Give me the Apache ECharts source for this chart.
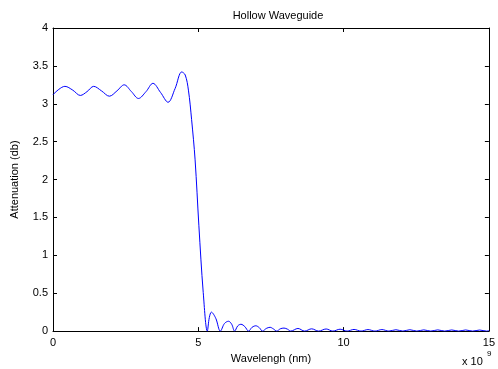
<!DOCTYPE html>
<html>
<head>
<meta charset="utf-8">
<script src="https://cdn.jsdelivr.net/npm/echarts@6/dist/echarts.min.js"></script>
<style>
  html, body { margin: 0; padding: 0; background: #fff; }
  #chart { width: 498px; height: 369px; }
</style>
</head>
<body>
<div id="chart"></div>
<script>
// wavelength (x 10^9 nm) and attenuation (db)
const waveX = [
  0, 0.2, 0.41, 0.68, 0.94, 1.17, 1.4, 1.67, 1.94, 2.2, 2.45, 2.7, 2.94, 3.2, 3.44, 3.7, 3.96, 4.2, 4.43, 4.55,
  4.66, 4.77, 4.89, 5.02, 5.17, 5.31,
  5.38, 5.45, 5.6, 5.76, 5.9, 6.04, 6.15, 6.25, 6.36, 6.47, 6.6, 6.73, 6.85, 6.98, 7.1, 7.21,
  7.34, 7.47, 7.58, 7.7, 7.82, 7.95, 8.07, 8.18, 8.43, 8.66, 8.9, 9.14, 9.4, 9.63, 9.88, 10.12,
  10.36, 10.6, 10.84, 11.08, 11.32, 11.56, 11.8, 12.04, 12.28, 12.52, 12.76, 13.0, 13.24, 13.48,
  13.72, 13.96, 14.2, 14.44, 14.68, 14.92, 15
];
const attenuation = [
  3.12, 3.19, 3.23, 3.18, 3.11, 3.16, 3.23, 3.17, 3.10, 3.17, 3.25, 3.16, 3.07, 3.16, 3.27, 3.15, 3.02, 3.2, 3.42, 3.38,
  3.18, 2.79, 2.26, 1.39, 0.51, 0.0,
  0.18, 0.25, 0.17, 0.0, 0.1, 0.13, 0.09, 0.0, 0.07, 0.09, 0.06, 0.0, 0.05, 0.07, 0.045, 0.0,
  0.035, 0.05, 0.03, 0.0, 0.03, 0.04, 0.025, 0.0, 0.035, 0.0, 0.03, 0.0, 0.028, 0.0, 0.025, 0.0,
  0.022, 0.0, 0.02, 0.0, 0.02, 0.0, 0.018, 0.0, 0.018, 0.0, 0.016, 0.0, 0.016, 0.0,
  0.015, 0.0, 0.015, 0.0, 0.014, 0.0, 0.006
];
const xTicks = [0, 5, 10, 15];
const yTicks = [0, 0.5, 1, 1.5, 2, 2.5, 3, 3.5, 4];

const font = 'Arial, "Liberation Sans", sans-serif';
const chart = echarts.init(document.getElementById('chart'));

// MATLAB-like box: axis line on all four sides, ticks pointing inwards
const boxLine = { show: true, onZero: false, lineStyle: { color: '#000', width: 1 } };
const boxTick = { show: true, inside: true, length: 4, lineStyle: { color: '#000' } };
const hiddenAxis = {
  axisLine: boxLine,
  axisTick: boxTick,
  axisLabel: { show: false },
  splitLine: { show: false }
};

chart.setOption({
  animation: false,
  backgroundColor: '#fff',
  title: {
    text: 'Hollow Waveguide',
    left: 273,
    top: 5,
    textAlign: 'center',
    textStyle: { fontFamily: font, fontSize: 11, fontWeight: 'normal', color: '#000' }
  },
  grid: { left: 53, right: 4, top: 28, bottom: 37 },
  xAxis: [{
    type: 'value',
    min: xTicks[0],
    max: xTicks[xTicks.length - 1],
    interval: 5,
    name: 'Wavelengh (nm)',
    nameLocation: 'middle',
    nameGap: 20,
    nameTextStyle: { fontFamily: font, fontSize: 11, color: '#000' },
    axisLine: boxLine,
    axisTick: boxTick,
    axisLabel: { fontFamily: font, fontSize: 11, color: '#000', margin: 6 },
    splitLine: { show: false }
  }, Object.assign({
    type: 'value', position: 'top',
    min: xTicks[0], max: xTicks[xTicks.length - 1], interval: 5
  }, hiddenAxis)],
  yAxis: [{
    type: 'value',
    min: yTicks[0],
    max: yTicks[yTicks.length - 1],
    interval: 0.5,
    name: 'Attenuation (db)',
    nameLocation: 'middle',
    nameRotate: 90,
    nameGap: 33,
    nameTextStyle: { fontFamily: font, fontSize: 11, color: '#000' },
    axisLine: boxLine,
    axisTick: boxTick,
    axisLabel: { fontFamily: font, fontSize: 11, color: '#000', margin: 5 },
    splitLine: { show: false }
  }, Object.assign({
    type: 'value', position: 'right',
    min: yTicks[0], max: yTicks[yTicks.length - 1], interval: 0.5
  }, hiddenAxis)],
  graphic: [{
    type: 'text',
    left: 462,
    top: 356,
    style: { text: 'x 10', fontFamily: font, fontSize: 11, fill: '#000' }
  }, {
    type: 'text',
    left: 487,
    top: 350,
    style: { text: '9', fontFamily: font, fontSize: 8, fill: '#000' }
  }],
  series: [{
    type: 'line',
    data: waveX.map((x, i) => [x, attenuation[i]]),
    smooth: 0.35,
    showSymbol: false,
    clip: true,
    lineStyle: { color: '#0000ff', width: 1 },
    color: '#0000ff'
  }]
});
</script>
</body>
</html>
